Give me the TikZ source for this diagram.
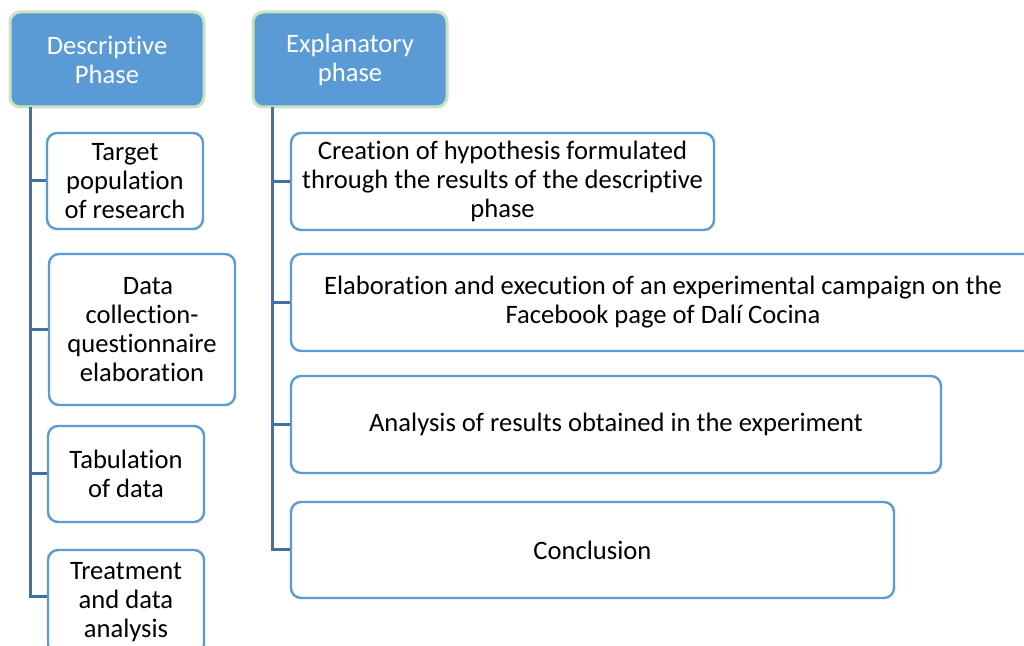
\documentclass[tikz,border=0pt]{standalone}
\usepackage{fontspec}
\setmainfont{Carlito}[Ligatures=NoCommon]
\usepackage{xcolor}
\usepackage{tikz}
\usetikzlibrary{positioning}

\definecolor{phaseblue}{HTML}{5B9BD5}
\definecolor{phaserim}{HTML}{C9E3C0}
\definecolor{linkblue}{HTML}{41719C}

\begin{document}
\begin{tikzpicture}[x=0.5pt, y=-0.5pt,
    phase/.style={draw=phaserim, line width=1.5pt, fill=phaseblue, text=white,
      rounded corners=5pt, align=center, inner sep=0pt,
      font=\fontsize{13.3}{14.5}\selectfont},
    task/.style={draw=phaseblue, line width=1.2pt, fill=white,
      rounded corners=5pt, align=center, inner sep=0pt,
      font=\fontsize{13.3}{14.5}\selectfont},
    link/.style={draw=linkblue, line width=1.5pt}]
        \clip (0,0) rectangle (1024,646);

        \node[phase, minimum width=97pt, minimum height=47.5pt] (D) at (107,59.5) {Descriptive\\Phase};
        \node[phase, minimum width=97pt, minimum height=47.5pt] (E) at (350,59.5) {Explanatory\\phase};

        \coordinate (Dtop) at (30,107);
        \coordinate (Etop) at (272,107);

        \node[task, minimum width=78pt, minimum height=48pt] (D1) at (125,181) {Target\\population\\of research};
        \node[task, minimum width=93pt, minimum height=75.5pt] (D2) at (142,329.5) {\hspace*{6pt}Data\\collection-\\questionnaire\\elaboration};
        \node[task, minimum width=78pt, minimum height=48pt] (D3) at (126,474) {Tabulation\\of data};
        \node[task, minimum width=78pt, minimum height=52pt] (D4) at (126,602) {Treatment\\and data\\analysis};

        \node[task, minimum width=211.5pt, minimum height=48.5pt] (E1) at (502.5,181.5) {Creation of hypothesis formulated\\through the results of the descriptive\\phase};
        \node[task, minimum width=372pt, minimum height=48.5pt] (E2) at (663,302.5) {Elaboration and execution of an experimental campaign on the\\Facebook page of Dal\'i Cocina};
        \node[task, minimum width=325pt, minimum height=48.5pt] (E3) at (616,424.5) {Analysis of results obtained in the experiment};
        \node[task, minimum width=301.5pt, minimum height=48pt] (E4) at (592.5,550) {Conclusion};

        \foreach \n in {D1,D2,D3}
          \draw[link] (Dtop) |- (\n.west);
        \draw[link] (Dtop) |- (D4.west |- 0,597);
        \foreach \n in {E1,E2,E3,E4}
          \draw[link] (Etop) |- (\n.west);
\end{tikzpicture}
\end{document}
